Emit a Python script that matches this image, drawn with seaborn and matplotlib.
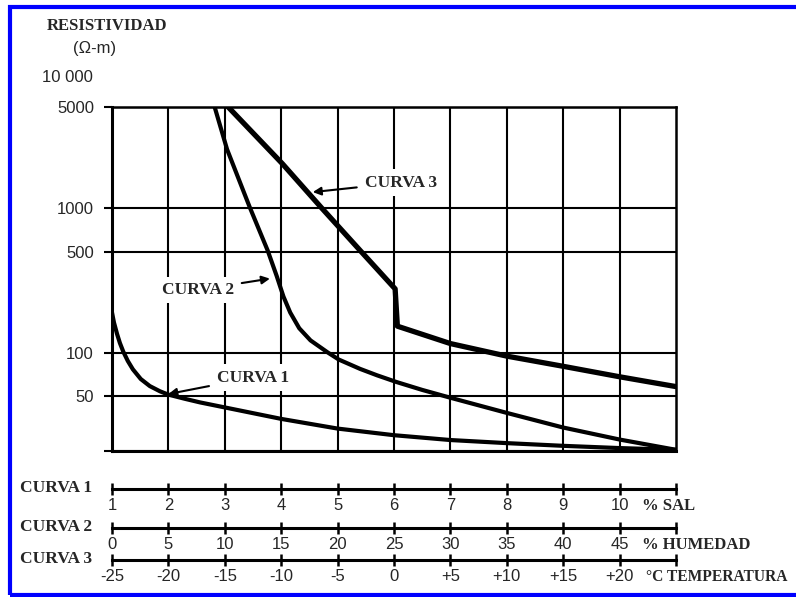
import matplotlib
matplotlib.use("Agg")
import matplotlib.pyplot as plt
from matplotlib.patches import Rectangle
from matplotlib.ticker import NullLocator
import seaborn as sns

# curve 1: resistivity (ohm-m) vs % salt
sal_pct = [1.0, 1.035, 1.09, 1.14, 1.2, 1.28, 1.37, 1.51, 1.67, 1.85, 2.0, 2.29, 2.56,
           3.0, 4.0, 5.0, 6.0, 7.0, 8.0, 9.0, 10.0, 11.0]
sal_res = [190, 162, 135, 117, 102, 88, 77, 66, 59, 54.3, 51.5, 48.2, 45.5,
           42, 35, 30, 27, 25.0, 23.8, 22.8, 22.0, 21.4]

# curve 2: resistivity vs % humidity
hum_pct = [9.1, 10.2, 12.2, 13.8, 14.6, 15.2, 15.8, 16.6, 17.6, 19.1, 20.1, 22.0, 23.5,
           25.2, 27.5, 30.0, 35.0, 40.0, 45.0, 50.0]
hum_res = [5000, 2550, 1020, 510, 340, 245, 190, 148, 122, 101, 90, 77.5, 70,
           63, 55.5, 49, 38.5, 30.5, 25.2, 21.4]

# curve 3: resistivity vs temperature (C)
temp_c = [-14.7, -9.9, -6.4, -2.9, 0.1, 0.3, 5.0, 10.0, 15.0, 20.0, 25.0]
temp_res = [5000, 2030, 1000, 500, 277, 153, 116, 95, 80.8, 68.4, 58.5]

res_ticks = [21, 50, 100, 500, 1000, 5000]
res_labels = ["", "50", "100", "500", "1000", "5000"]

sal_ticks = [1, 2, 3, 4, 5, 6, 7, 8, 9, 10]
hum_ticks = [0, 5, 10, 15, 20, 25, 30, 35, 40, 45]
temp_ticks = [-25, -20, -15, -10, -5, 0, 5, 10, 15, 20]
temp_labels = ["-25", "-20", "-15", "-10", "-5", "0", "+5", "+10", "+15", "+20"]

W, H = 796, 597
SERIF = ["Liberation Serif", "DejaVu Serif"]

sns.set_style("white")
plt.rcParams["font.family"] = ["Liberation Sans", "DejaVu Sans"]


def px(x, y):
    return x / W, 1 - y / H


fig = plt.figure(figsize=(W / 100, H / 100), dpi=100)
fig.patch.set_facecolor("white")

l, t = px(112, 107)
r, b = px(676, 451)
ax = fig.add_axes([l, b, r - l, t - b])
ax.set_yscale("log")
ax.set_ylim(21, 5000)
ax.set_xlim(0, 50)
ax.set_xticks(range(5, 50, 5))
ax.set_yticks(res_ticks)
ax.set_yticklabels(res_labels)
ax.yaxis.set_minor_locator(NullLocator())
ax.grid(True, color="black", lw=1.5)
ax.set_axisbelow(True)
ax.tick_params(axis="x", length=0, labelbottom=False)
ax.tick_params(axis="y", left=True, length=6, width=1.5, color="black", direction="out",
               pad=7, labelsize=12)
for side, sp in ax.spines.items():
    sp.set_visible(True)
    sp.set_color("black")
    sp.set_linewidth(2.2 if side in ("left", "bottom") else 1.8)

sns.lineplot(x=hum_pct, y=hum_res, ax=ax, color="black", lw=3, sort=False, estimator=None)
ax.set_xlim(0, 50)
ax.set_ylim(21, 5000)

ax1 = ax.twiny()
sns.lineplot(x=sal_pct, y=sal_res, ax=ax1, color="black", lw=3, sort=False, estimator=None)
ax1.set_xlim(1, 11)

ax3 = ax.twiny()
sns.lineplot(x=temp_c, y=temp_res, ax=ax3, color="black", lw=3.8, sort=False, estimator=None)
ax3.set_xlim(-25, 25)

for tw in (ax1, ax3):
    tw.tick_params(top=False, labeltop=False, bottom=False, labelbottom=False)
    for sp in tw.spines.values():
        sp.set_visible(False)
    tw.set_xlabel("")
    tw.set_ylim(21, 5000)

box = dict(boxstyle="square,pad=0.3", fc="white", ec="none")
arrow = dict(arrowstyle="-|>", color="black", lw=1.5, mutation_scale=12, shrinkA=2, shrinkB=0)
lab = dict(ha="center", va="center", fontsize=12.5, fontweight="bold", family=SERIF,
           bbox=box, arrowprops=arrow)
ax3.annotate("CURVA 3", xy=(-7.2, 1291), xytext=(0.6, 1500), **lab)
ax.annotate("CURVA 2", xy=(14.0, 326), xytext=(7.6, 272), **lab)
ax1.annotate("CURVA 1", xy=(2.0, 52), xytext=(3.5, 67.6), **lab)

# titles on the resistivity axis
fig.text(*px(47, 26), "RESISTIVIDAD", ha="left", va="center", fontsize=12,
         fontweight="bold", family=SERIF)
fig.text(*px(95, 48), "(Ω-m)", ha="center", va="center", fontsize=12)
fig.text(*px(93, 77), "10 000", ha="right", va="center", fontsize=12)

# three scales under the chart
rows = [
    ("CURVA 1", 489, (1, 11), sal_ticks, [str(v) for v in sal_ticks], "% SAL", 642, 12),
    ("CURVA 2", 528, (0, 50), hum_ticks, [str(v) for v in hum_ticks], "% HUMEDAD", 642, 12),
    ("CURVA 3", 560, (-25, 25), temp_ticks, temp_labels, "°C TEMPERATURA", 646, 11.2),
]
for name, y, lim, ticks, labels, unit, ux, usize in rows:
    _, yb = px(0, y)
    sax = fig.add_axes([l, yb, r - l, 0.001])
    sax.patch.set_visible(False)
    sax.set_xlim(*lim)
    sax.set_xticks(ticks + [lim[1]])
    sax.set_xticklabels(labels + [""])
    sax.set_yticks([])
    sns.despine(ax=sax, left=True, top=True, right=True)
    sax.spines["bottom"].set_linewidth(2.2)
    sax.spines["bottom"].set_color("black")
    sax.tick_params(axis="x", bottom=True, direction="inout", length=9, width=1.8,
                    color="black", labelsize=12, pad=2)
    fig.text(*px(20, y - 1), name, ha="left", va="center", fontsize=12.5,
             fontweight="bold", family=SERIF)
    fig.text(*px(ux, y + 17), unit, ha="left", va="center", fontsize=usize,
             fontweight="bold", family=SERIF)

fig.add_artist(Rectangle(px(10, 595), 1.1, (595 - 7) / H, transform=fig.transFigure,
                         fill=False, ec="#0000ff", lw=3))

fig.savefig("out.png", dpi=100)
